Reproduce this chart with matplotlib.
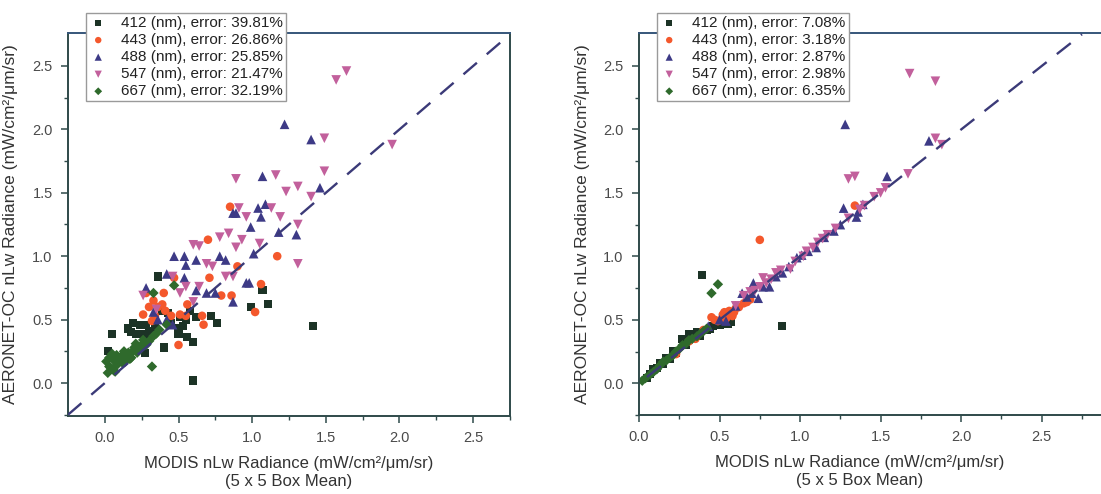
# -*- coding: utf-8 -*-
"""
MODIS vs AERONET-OC nLw scatter, two panels
"""
import matplotlib
matplotlib.use("Agg")
import matplotlib.pyplot as plt

plt.rcParams['font.family'] = ['Liberation Sans', 'DejaVu Sans']

# DATA
bands = ['412', '443', '488', '547', '667']
err_left = ['39.81', '26.86', '25.85', '21.47', '32.19']
err_right = ['7.08', '3.18', '2.87', '2.98', '6.35']

# left panel
l412_x = [0.36, 0.05, 0.02, 0.60, 1.41, 1.07, 1.11, 0.99, 0.16, 0.19, 0.24, 0.28, 0.21, 0.26,
          0.29, 0.40, 0.39, 0.50, 0.50, 0.56, 0.60, 0.72, 0.76, 0.62, 0.58, 0.27, 0.32, 0.51,
          0.18, 0.30, 0.34, 0.45, 0.43, 0.55, 0.53]
l412_y = [0.84, 0.39, 0.25, 0.02, 0.45, 0.73, 0.62, 0.60, 0.43, 0.47, 0.46, 0.46, 0.39, 0.39,
          0.36, 0.28, 0.57, 0.43, 0.39, 0.36, 0.32, 0.53, 0.47, 0.52, 0.57, 0.24, 0.40, 0.52,
          0.40, 0.41, 0.46, 0.47, 0.55, 0.50, 0.45]
l443_x = [0.50, 0.70, 0.85, 1.17, 1.02, 1.06, 0.86, 0.79, 0.67, 0.66, 0.47, 0.40, 0.26, 0.30,
          0.36, 0.41, 0.45, 0.51, 0.34, 0.56, 0.71, 0.90, 0.55, 0.32, 0.28, 0.33, 0.39]
l443_y = [0.30, 1.13, 1.39, 1.00, 0.56, 0.78, 0.69, 0.69, 0.46, 0.53, 0.83, 0.71, 0.54, 0.60,
          0.60, 0.57, 0.53, 0.54, 0.53, 0.62, 0.83, 0.92, 0.53, 0.49, 0.71, 0.65, 0.62]
l488_x = [1.22, 1.40, 1.46, 1.07, 1.09, 1.04, 1.06, 0.99, 1.01, 1.18, 1.30, 0.87, 0.89, 0.78,
          0.82, 0.96, 0.98, 0.54, 0.47, 0.28, 0.42, 0.55, 0.62, 0.54, 0.62, 0.69, 0.75, 0.87,
          0.33, 0.36, 0.42, 0.46]
l488_y = [2.04, 1.92, 1.54, 1.63, 1.41, 1.38, 1.31, 1.23, 1.02, 1.19, 1.17, 1.34, 1.34, 1.00,
          0.97, 0.79, 0.79, 1.00, 1.00, 0.75, 0.86, 0.93, 0.97, 0.83, 0.73, 0.71, 0.71, 0.64,
          0.56, 0.50, 0.50, 0.46]
l547_x = [1.64, 1.57, 1.49, 1.49, 1.95, 1.40, 1.31, 1.23, 1.16, 0.89, 1.19, 1.13, 1.31, 1.31,
          0.96, 0.91, 0.89, 0.93, 0.84, 0.78, 0.60, 0.64, 0.69, 0.73, 0.82, 0.87, 0.46, 0.55,
          0.51, 0.26, 0.60, 0.64, 0.35, 1.05]
l547_y = [2.46, 2.39, 1.93, 1.67, 1.88, 1.47, 1.55, 1.51, 1.64, 1.61, 1.31, 1.38, 1.25, 0.94,
          1.31, 1.38, 1.07, 1.13, 1.18, 1.15, 1.09, 1.08, 0.94, 0.92, 0.84, 0.84, 0.84, 0.76,
          0.71, 0.69, 0.64, 0.76, 0.58, 1.10]
l667_x = [0.02, 0.03, 0.06, 0.10, 0.15, 0.19, 0.24, 0.28, 0.33, 0.37, 0.42, 0.32, 0.33, 0.47,
          0.01, 0.05, 0.08, 0.12, 0.17, 0.07, 0.21, 0.26, 0.35,
          0.04, 0.06, 0.09, 0.11, 0.14, 0.16, 0.18, 0.22, 0.20, 0.25, 0.30, 0.13, 0.03, 0.08]
l667_y = [0.08, 0.13, 0.18, 0.19, 0.22, 0.25, 0.27, 0.30, 0.37, 0.42, 0.46, 0.13, 0.71, 0.77,
          0.17, 0.23, 0.14, 0.16, 0.19, 0.09, 0.31, 0.34, 0.39,
          0.12, 0.10, 0.17, 0.21, 0.17, 0.24, 0.20, 0.24, 0.28, 0.30, 0.33, 0.25, 0.20, 0.22]

# right panel
r412_x = [0.39, 0.89, 0.05, 0.13, 0.21, 0.31, 0.36, 0.42, 0.48, 0.52, 0.57, 0.27, 0.17, 0.09,
          0.44, 0.07, 0.11, 0.15, 0.19, 0.23, 0.29, 0.33, 0.38, 0.46, 0.55, 0.50]
r412_y = [0.85, 0.45, 0.04, 0.16, 0.25, 0.39, 0.40, 0.42, 0.47, 0.47, 0.48, 0.35, 0.20, 0.11,
          0.43, 0.07, 0.12, 0.15, 0.19, 0.24, 0.30, 0.38, 0.37, 0.45, 0.47, 0.46]
r443_x = [0.75, 1.34, 0.45, 0.52, 0.56, 0.60, 0.65, 0.54, 0.31, 0.49, 0.58, 0.69, 0.23,
          0.35, 0.40, 0.47, 0.51, 0.57, 0.62, 0.67, 0.53, 0.59]
r443_y = [1.13, 1.40, 0.52, 0.54, 0.57, 0.59, 0.63, 0.51, 0.33, 0.49, 0.53, 0.66, 0.23,
          0.35, 0.42, 0.50, 0.50, 0.55, 0.60, 0.64, 0.56, 0.56]
r488_x = [1.28, 1.80, 1.54, 1.27, 1.39, 1.35, 1.21, 1.01, 0.71, 0.74, 0.64, 0.54, 0.43, 0.89,
          1.10, 0.81, 0.60, 0.67, 0.77, 0.85, 0.93, 0.98, 1.05, 1.15, 1.25, 1.36, 0.70, 0.50]
r488_y = [2.04, 1.91, 1.63, 1.38, 1.41, 1.31, 1.20, 1.01, 0.79, 0.67, 0.71, 0.49, 0.45, 0.87,
          1.07, 0.76, 0.61, 0.68, 0.76, 0.84, 0.92, 0.99, 1.04, 1.15, 1.25, 1.35, 0.71, 0.50]
r547_x = [1.68, 1.84, 1.84, 1.88, 1.67, 1.30, 1.34, 1.53, 1.46, 1.30, 1.14, 1.08, 0.94, 0.85,
          0.77, 0.69, 0.65, 0.79, 1.02, 0.60, 0.72, 0.82, 0.88, 0.97, 1.04, 1.11, 1.17, 1.22,
          1.37, 1.50, 1.40, 0.75]
r547_y = [2.44, 2.38, 1.93, 1.88, 1.65, 1.61, 1.63, 1.54, 1.47, 1.30, 1.14, 1.07, 0.90, 0.87,
          0.83, 0.72, 0.69, 0.79, 1.00, 0.61, 0.73, 0.82, 0.89, 0.96, 1.04, 1.11, 1.17, 1.22,
          1.37, 1.50, 1.40, 0.76]
r667_x = [0.45, 0.49, 0.02, 0.07, 0.11, 0.15, 0.19, 0.23, 0.27, 0.31, 0.36, 0.40, 0.42,
          0.04, 0.09, 0.13, 0.17, 0.21, 0.25, 0.29, 0.33, 0.38]
r667_y = [0.71, 0.78, 0.02, 0.07, 0.11, 0.17, 0.20, 0.25, 0.30, 0.34, 0.37, 0.41, 0.43,
          0.04, 0.09, 0.14, 0.18, 0.22, 0.27, 0.31, 0.35, 0.39]

left_x = [l412_x, l443_x, l488_x, l547_x, l667_x]
left_y = [l412_y, l443_y, l488_y, l547_y, l667_y]
right_x = [r412_x, r443_x, r488_x, r547_x, r667_x]
right_y = [r412_y, r443_y, r488_y, r547_y, r667_y]

# STYLE
markers = ['s', 'o', '^', 'v', 'D']
colors = ['#1c3326', '#f4582c', '#3d3a86', '#c2609c', '#2f6a2c']
sizes = [34, 38, 48, 48, 28]
spine_c = '#2f4a4a'
tick_c = '#4a4a4a'


def panel(ax, xs, ys, errs, xlim, ylim, leg_anchor, ylab_x, xlab_x, show_right=True):
    for k in range(len(bands)):
        ax.scatter(xs[k], ys[k], marker=markers[k], s=sizes[k], c=colors[k],
                   edgecolors='none', zorder=2,
                   label='{} (nm), error: {}%'.format(bands[k], errs[k]))
    # 1:1 line
    ax.plot([-0.25, 2.75], [-0.25, 2.75], color='#3b3a78', lw=1.7,
            dashes=[7.5, 5.5], zorder=3, clip_on=True)
    ax.set_xlim(xlim)
    ax.set_ylim(ylim)
    ax.set_xticks([0.0, 0.5, 1.0, 1.5, 2.0, 2.5])
    ax.set_yticks([0.0, 0.5, 1.0, 1.5, 2.0, 2.5])
    ax.set_xticks([0.25, 0.75, 1.25, 1.75, 2.25, 2.75], minor=True)
    ax.set_yticks([-0.25, 0.25, 0.75, 1.25, 1.75, 2.25], minor=True)
    ax.set_xticklabels(['0.0', '0.5', '1.0', '1.5', '2.0', '2.5'])
    ax.set_yticklabels(['0.0', '0.5', '1.0', '1.5', '2.0', '2.5'])
    ax.tick_params(which='major', direction='out', length=5, width=1.1,
                   color=spine_c, labelcolor=tick_c, labelsize=10.5, pad=6)
    ax.tick_params(which='minor', direction='out', length=3, width=1.0, color=spine_c)
    ax.tick_params(top=False, right=False, which='both')
    for s in ['left', 'bottom', 'top', 'right']:
        ax.spines[s].set_color(spine_c)
        ax.spines[s].set_linewidth(1.4)
    ax.spines['top'].set_color('#36567a')
    if not show_right:
        ax.spines['right'].set_visible(False)
    ax.set_xlabel('MODIS nLw Radiance (mW/cm\u00b2/\u03bcm/sr)\n(5 x 5 Box Mean)',
                  fontsize=12, color='#333333', linespacing=1.25)
    ax.set_ylabel('AERONET-OC nLw Radiance (mW/cm\u00b2/\u03bcm/sr)',
                  fontsize=12.5, color='#333333')
    ax.xaxis.set_label_coords(xlab_x, -0.105)
    ax.yaxis.set_label_coords(ylab_x, 0.5)
    leg = ax.legend(loc='upper left', bbox_to_anchor=leg_anchor,
                    bbox_transform=fig.transFigure, borderaxespad=0,
                    fontsize=11, frameon=True, fancybox=False, framealpha=1,
                    edgecolor='#9a9a9a', handletextpad=0.9, handlelength=1.2,
                    labelspacing=0.2, borderpad=0.2, markerscale=0.75,
                    labelcolor='#222222')
    leg.get_frame().set_linewidth(1.0)
    leg.set_zorder(5)


fig = plt.figure(figsize=(11.01, 4.94), dpi=100)
W, H = 1101.0, 494.0

ax1 = fig.add_axes([68 / W, 1 - 416 / H, (510 - 68) / W, (416 - 33) / H])
ax2 = fig.add_axes([639 / W, 1 - 415 / H, (1101 - 639) / W, (415 - 33) / H])

panel(ax1, left_x, left_y, err_left, (-0.25, 2.75), (-0.26, 2.76),
      (86 / W, 1 - 13 / H), -50 / 442.0, 0.5)
panel(ax2, right_x, right_y, err_right, (0.0, 2.868), (0.0, 2.76),
      (657 / W, 1 - 13 / H), -49 / 462.0, (860 - 639) / 462.0, show_right=False)

fig.savefig('out.png', dpi=100)
